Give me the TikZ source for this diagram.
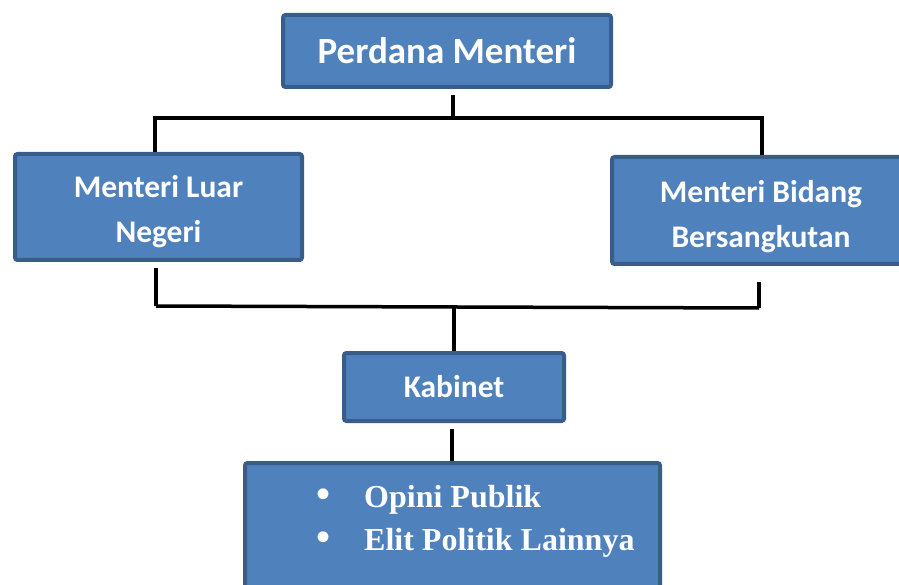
\documentclass[tikz,border=0pt]{standalone}
\usepackage{fontspec}
\setmainfont{Liberation Serif}
\newfontfamily\carlitofont{Carlito}
\definecolor{boxfill}{HTML}{4F81BD}
\definecolor{boxline}{HTML}{385D8A}
\tikzset{
  orgbox/.style={draw=boxline, fill=boxfill, line width=4pt, rounded corners=2.5pt,
    text=white, align=center, inner sep=0pt},
  bigtext/.style={font=\carlitofont\bfseries\fontsize{37}{44}\selectfont},
  midtext/.style={font=\carlitofont\bfseries\fontsize{31.5}{45}\selectfont},
  listtext/.style={font=\bfseries\fontsize{32}{43}\selectfont, text=white, inner sep=0pt},
  conn/.style={draw=black, line width=3.5pt},
}
\begin{document}
\begin{tikzpicture}[x=1pt,y=-1pt]
\useasboundingbox (0,0) rectangle (899,585);
\clip (0,0) rectangle (899,585);
% boxes
\node[orgbox, bigtext, minimum width=328pt, minimum height=72pt] (pm) at (447,51) {Perdana Menteri};
\node[orgbox, midtext, text height=77pt, minimum width=287pt, minimum height=106pt] (ml) at (158.5,207) {Menteri Luar\\Negeri};
\node[orgbox, midtext, text height=79pt, minimum width=298pt, minimum height=107pt] (mb) at (761,210.5) {Menteri Bidang\\Bersangkutan};
\node[orgbox, midtext, minimum width=220pt, minimum height=68pt] (kab) at (454,387) {Kabinet};
\node[orgbox, minimum width=415pt, minimum height=160pt] (op) at (452.5,543) {};
% list
\node[listtext, anchor=base] (b1) at (323,507) {\fontsize{40}{43}\selectfont •};
\node[listtext, anchor=base] (b2) at (323,550) {\fontsize{40}{43}\selectfont •};
\node[listtext, anchor=base west] (l1) at (364,507) {Opini Publik};
\node[listtext, anchor=base west] (l2) at (364,550) {Elit Politik Lainnya};
% junctions
\coordinate (tm) at (453,118);
\coordinate (tl) at (155,118);
\coordinate (tr) at (762,118);
\coordinate (bl) at (156,306);
\coordinate (bm) at (454,307);
\coordinate (br) at (759,308);
% connectors
\draw[conn, shorten >=6pt] (tm) -- (tm |- pm.south);
\draw[conn] (tl |- ml.north) -- (tl) -- (tr) -- (tr |- mb.north);
\draw[conn, shorten <=6pt] (bl |- ml.south) -- (bl);
\draw[conn, shorten <=16pt] (br |- mb.south) -- (br);
\draw[conn] (bl) -- (br);
\draw[conn] (bm) -- (bm |- kab.north);
\draw[conn, shorten <=6pt] (452,0 |- kab.south) -- (452,0 |- op.north);
\end{tikzpicture}
\end{document}
